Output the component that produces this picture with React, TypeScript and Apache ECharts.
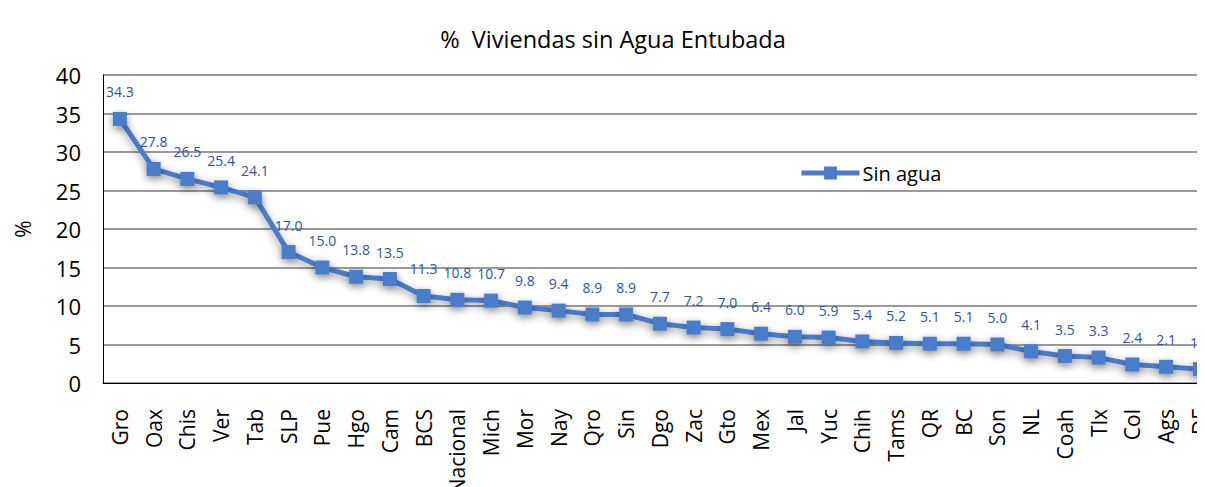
import React, { useEffect, useRef } from "react";
import * as echarts from "echarts";

const categories = ["Gro","Oax","Chis","Ver","Tab","SLP","Pue","Hgo","Cam","BCS","Nacional","Mich","Mor","Nay","Qro","Sin","Dgo","Zac","Gto","Mex","Jal","Yuc","Chih","Tams","QR","BC","Son","NL","Coah","Tlx","Col","Ags","DF"];
const sinAgua = [34.3,27.8,26.5,25.4,24.1,17.0,15.0,13.8,13.5,11.3,10.8,10.7,9.8,9.4,8.9,8.9,7.7,7.2,7.0,6.4,6.0,5.9,5.4,5.2,5.1,5.1,5.0,4.1,3.5,3.3,2.4,2.1,1.8];
const seriesName = "Sin agua";
const title = "%  Viviendas sin Agua Entubada";

const FONT = "'Open Sans', 'Liberation Sans', sans-serif";

export default function App() {
  const ref = useRef<HTMLDivElement>(null);
  useEffect(() => {
    if (!ref.current) return;
    const chart = echarts.init(ref.current, null, { renderer: "svg" });
    chart.setOption({
      animation: false,
      textStyle: { fontFamily: FONT },
      title: {
        text: title,
        left: 600,
        textAlign: "center",
        top: 14,
        textStyle: { fontSize: 23.5, fontWeight: "normal", color: "#000", fontFamily: FONT },
      },
      legend: {
        data: [seriesName],
        left: 786,
        top: 150,
        itemWidth: 58,
        itemHeight: 16,
        itemGap: 4,
        lineStyle: { width: 5, shadowBlur: 0 },
        itemStyle: { shadowBlur: 0 },
        textStyle: { fontSize: 20, color: "#000", fontFamily: FONT, padding: [0, 0, 0, -2] },
      },
      grid: { left: 95, top: 67, width: 1113.75, height: 308, outerBoundsMode: "none", containLabel: false },
      xAxis: {
        type: "category",
        data: categories,
        boundaryGap: true,
        axisLine: { lineStyle: { color: "#000", width: 1 } },
        axisTick: { show: false },
        axisLabel: { rotate: 90, fontSize: 21, color: "#000", margin: 26, fontFamily: FONT, interval: 0 },
      },
      yAxis: {
        type: "value",
        min: 0,
        max: 40,
        interval: 5,
        name: "%",
        nameLocation: "middle",
        nameGap: 70,
        nameRotate: 90,
        nameTextStyle: { fontSize: 21, color: "#000", fontFamily: FONT },
        axisLine: { show: true, lineStyle: { color: "#000", width: 1 } },
        axisTick: { show: false },
        axisLabel: { fontSize: 22, color: "#000", margin: 22, fontFamily: FONT },
        splitLine: { lineStyle: { color: "#9a9a9a", width: 2 } },
      },
      series: [
        {
          name: seriesName,
          type: "line",
          data: sinAgua,
          symbol: "rect",
          symbolSize: 14,
          lineStyle: { color: "#4a7cc9", width: 5, shadowColor: "rgba(0,0,0,0.4)", shadowBlur: 8, shadowOffsetY: 3 },
          itemStyle: { color: "#4a7cc9", shadowColor: "rgba(0,0,0,0.4)", shadowBlur: 8, shadowOffsetY: 3 },
          label: {
            show: true,
            position: "top",
            distance: 13,
            fontSize: 14,
            color: "#2e5597",
            fontFamily: FONT,
            formatter: (p: any) => Number(p.value).toFixed(1),
          },
        },
      ],
    });
    return () => chart.dispose();
  }, []);
  return (
    <div style={{ width: 1189, height: 479, overflow: "hidden" }}>
      <div ref={ref} style={{ width: 1230, height: 479 }} />
    </div>
  );
}
